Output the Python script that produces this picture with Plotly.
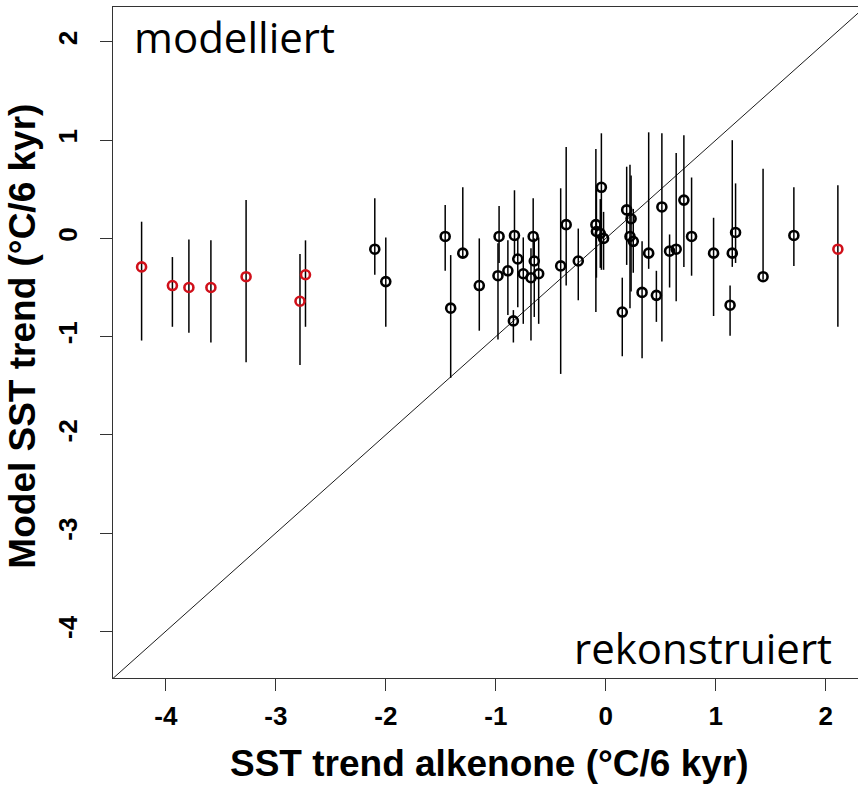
import plotly.graph_objects as go

# Alkenone-based SST trends vs. model SST trends (°C per 6 kyr)
# Model values come with an upper/lower bound drawn as vertical bars.

# Sites shown in black
blk_x = [-2.10, -2.00, -1.46, -1.41, -1.30, -1.15, -0.97, -0.98, -0.89, -0.84,
         -0.83, -0.80, -0.75, -0.68, -0.66, -0.65, -0.61, -0.41, -0.36, -0.25,
         -0.09, -0.085, -0.05, -0.04, -0.02, 0.19, 0.23, 0.22, 0.25, 0.15,
         0.33, 0.39, 0.46, 0.51, 0.58, 0.64, 0.71, 0.78, 0.98, 1.13,
         1.15, 1.18, 1.43, 1.71]
blk_y = [-0.11, -0.44, 0.02, -0.71, -0.15, -0.48, 0.02, -0.38, -0.33, -0.84,
         0.03, -0.21, -0.36, -0.40, 0.02, -0.23, -0.36, -0.28, 0.14, -0.23,
         0.14, 0.07, 0.05, 0.52, 0.00, 0.29, 0.20, 0.02, -0.03, -0.75,
         -0.55, -0.15, -0.58, 0.32, -0.13, -0.11, 0.39, 0.02, -0.15, -0.68,
         -0.15, 0.06, -0.39, 0.03]
blk_hi = [0.41, 0.01, 0.34, -0.17, 0.52, 0.00, 0.33, -0.05, -0.02, -0.73,
          0.49, 0.00, 0.01, -0.10, 0.41, 0.00, 0.01, 0.51, 0.93, 0.10,
          0.91, 0.50, 0.40, 1.07, 0.27, 0.73, 0.64, 0.75, 0.30, -0.40,
          -0.03, 1.08, -0.33, 1.07, 0.04, 0.87, 1.05, 0.62, 0.21, -0.48,
          1.00, 0.56, 0.71, 0.52]
blk_lo = [-0.37, -0.90, -0.33, -1.42, -0.20, -0.94, -0.25, -1.03, -0.78, -1.06,
          -0.20, -0.70, -0.87, -1.04, -0.20, -0.80, -0.87, -1.38, -0.48, -0.63,
          -0.75, -0.40, -0.30, -0.32, -0.32, -0.27, -0.54, -0.71, -0.35, -1.20,
          -1.22, -0.31, -0.85, -1.05, -0.50, -0.64, -0.29, -0.38, -0.79, -0.99,
          -0.29, -0.25, -0.42, -0.28]

# Sites shown in red
red_x = [-4.22, -3.94, -3.79, -3.59, -3.27, -2.78, -2.73, 2.11]
red_y = [-0.29, -0.48, -0.50, -0.50, -0.39, -0.64, -0.37, -0.11]
red_hi = [0.17, -0.19, -0.01, -0.02, 0.39, -0.16, -0.02, 0.54]
red_lo = [-1.04, -0.90, -0.96, -1.06, -1.26, -1.29, -0.90, -0.90]

x_ticks = [-4, -3, -2, -1, 0, 1, 2]
y_ticks = [-4, -3, -2, -1, 0, 1, 2]
tick_text = ["-4", "-3", "-2", "-1", "0", "1", "2"]
x_range = [-4.48, 2.293]
y_range = [-4.476, 2.356]


def series(xs, ys, hi, lo, color):
    return go.Scatter(
        x=xs, y=ys, mode="markers",
        marker=dict(symbol="circle-open", size=9, color=color,
                    line=dict(width=2.6, color=color)),
        error_y=dict(type="data", symmetric=False,
                     array=[h - v for h, v in zip(hi, ys)],
                     arrayminus=[v - l for v, l in zip(ys, lo)],
                     color="black", thickness=1.5, width=0),
        showlegend=False, hoverinfo="x+y",
    )


fig = go.Figure()
# 1:1 line
fig.add_trace(go.Scatter(x=[-5, 3], y=[-5, 3], mode="lines",
                         line=dict(color="black", width=0.9),
                         showlegend=False, hoverinfo="skip"))
fig.add_trace(series(blk_x, blk_y, blk_hi, blk_lo, "black"))
fig.add_trace(series(red_x, red_y, red_hi, red_lo, "#d0101a"))

axis_common = dict(
    showgrid=False, zeroline=False, showline=True, linecolor="#333333",
    linewidth=1.3, ticks="outside", ticklen=12, tickwidth=1.3,
    tickcolor="#333333",
    tickfont=dict(family="Liberation Sans", size=26, color="black",
                  weight="bold"),
)

fig.update_xaxes(range=x_range, tickvals=x_ticks, ticktext=tick_text,
                 mirror=True, ticklabelstandoff=3, **axis_common)
fig.update_yaxes(range=y_range, tickvals=y_ticks, ticktext=tick_text,
                 mirror=False, tickangle=-90, ticklabelstandoff=12,
                 **axis_common)

fig.update_layout(
    width=858, height=788,
    margin=dict(l=113, r=0, t=7, b=110),
    plot_bgcolor="white", paper_bgcolor="white",
    annotations=[
        dict(text="modelliert", xref="paper", yref="paper",
             x=0.026, y=1.002, xanchor="left", yanchor="top",
             showarrow=False,
             font=dict(family="Open Sans", size=42, color="black")),
        dict(text="rekonstruiert", xref="paper", yref="paper",
             x=0.968, y=0.0, xanchor="right", yanchor="bottom",
             showarrow=False,
             font=dict(family="Open Sans", size=42, color="black")),
        dict(text="SST trend alkenone (°C/6 kyr)", xref="paper", yref="paper",
             x=0.505, y=-0.128, xanchor="center", yanchor="middle",
             showarrow=False,
             font=dict(family="Liberation Sans", size=37, color="black",
                       weight="bold")),
        dict(text="Model SST trend (°C/6 kyr)", xref="paper", yref="paper",
             x=-0.121, y=0.51, xanchor="center", yanchor="middle",
             textangle=-90, showarrow=False,
             font=dict(family="Liberation Sans", size=37, color="black",
                       weight="bold")),
    ],
)

fig.write_html("out.html")
